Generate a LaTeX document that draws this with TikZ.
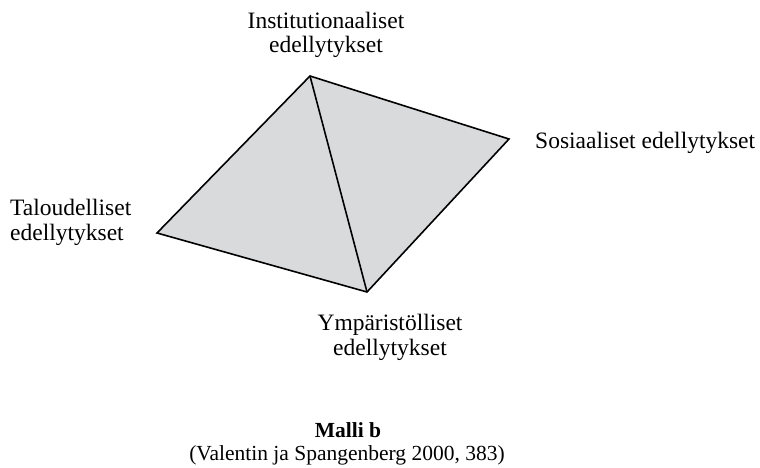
\documentclass[tikz,border=0pt]{standalone}
\usepackage{fontspec}
\setmainfont{Liberation Serif}
\definecolor{facegray}{RGB}{217,218,219}
\tikzset{
 face/.style={fill=facegray,draw=black,line width=1.6pt,line join=miter},
 edge/.style={draw=black,line width=1.6pt},
 lbl/.style={inner sep=0pt,align=center,font=\fontsize{23.5}{24.5}\selectfont},
 srctxt/.style={inner sep=0pt,font=\fontsize{21.5}{23}\selectfont}
}
\begin{document}
\begin{tikzpicture}[x=1pt,y=-1pt]
 \useasboundingbox (0,0) rectangle (760,468);
 \coordinate (inst) at (310,76);
 \coordinate (sos) at (509,139);
 \coordinate (ymp) at (367,292);
 \coordinate (tal) at (157,233);
 \filldraw[face] (inst) -- (sos) -- (ymp) -- (tal) -- cycle;
 \draw[edge] (inst) -- (ymp);
 \node[lbl,anchor=base] (instlbl) at (326,53) {Institutionaaliset\\edellytykset};
 \node[lbl,anchor=base west,align=left] (tallbl) at (10,240) {Taloudelliset\\edellytykset};
 \node[lbl,anchor=base west] (soslbl) at (535,148) {Sosiaaliset edellytykset};
 \node[lbl,anchor=base] (ymplbl) at (390,355) {Ympäristölliset\\edellytykset};
 \node[srctxt,anchor=base,font=\fontsize{21.5}{23}\selectfont\bfseries] (malli) at (348,437) {Malli b};
 \node[srctxt,anchor=base] (lahde) at (347,460) {(Valentin ja Spangenberg 2000, 383)};
\end{tikzpicture}
\end{document}
